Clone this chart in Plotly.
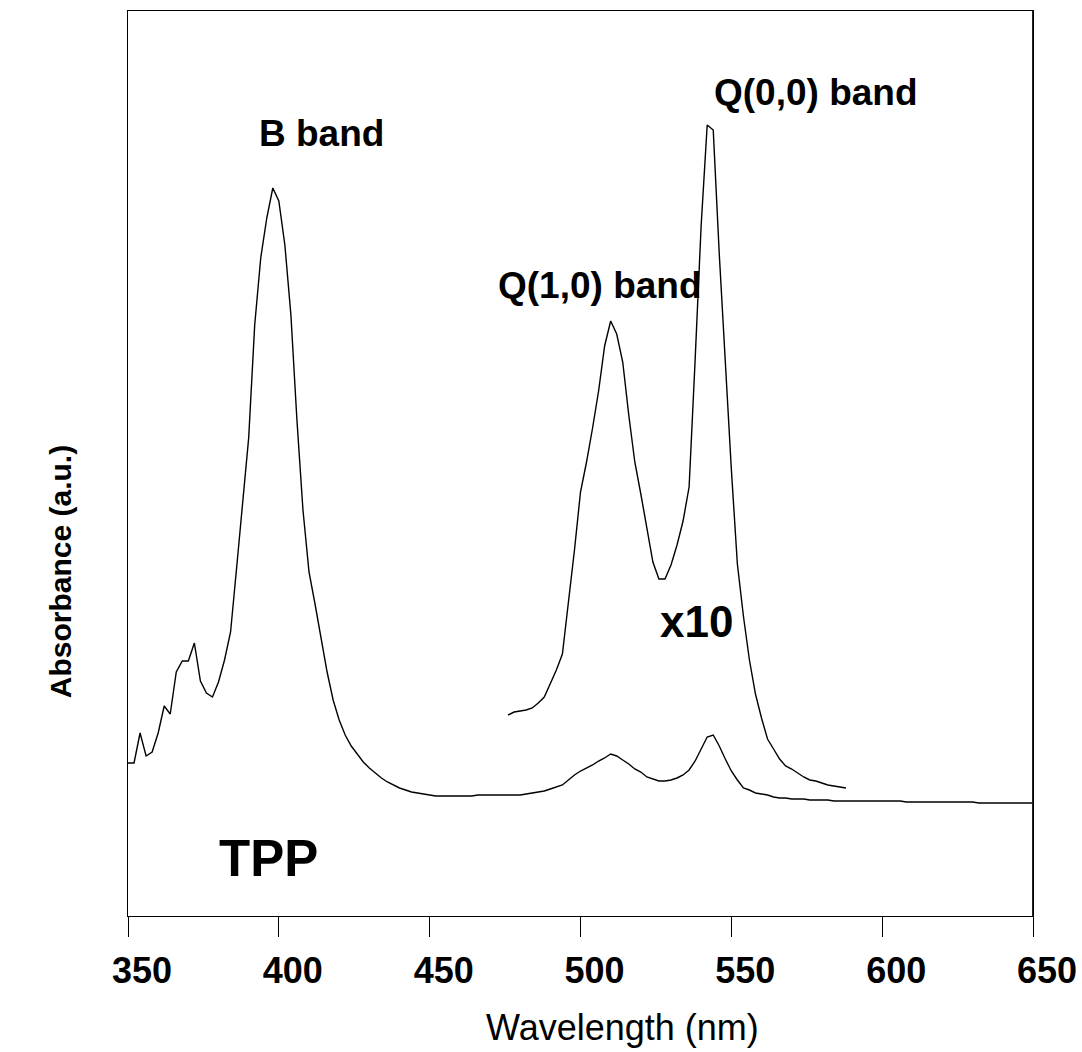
import plotly.graph_objects as go

# UV-vis absorption spectrum of TPP (arbitrary absorbance units)
wavelength = list(range(350, 652, 2))
absorbance = [
    153, 153, 183, 160, 164, 183, 210, 202, 244, 255,   # 350-368
    255, 273, 235, 223, 219, 234, 256, 284, 348, 416,   # 370-388
    478, 591, 658, 698, 728, 715, 671, 601, 496, 406,   # 390-408
    344, 312, 276, 244, 216, 196, 181, 170, 162, 154,   # 410-428
    148, 143, 138, 134, 131, 128, 126, 124, 123, 122,   # 430-448
    121, 120, 120, 120, 120, 120, 120, 120, 121, 121,   # 450-468
    121, 121, 121, 121, 121, 121, 122, 123, 124, 125,   # 470-488
    127, 129, 131, 136, 141, 145, 148, 151, 155, 158,   # 490-508
    162, 160, 156, 152, 147, 144, 139, 137, 135, 135,   # 510-528
    136, 138, 141, 146, 155, 167, 179, 181, 170, 157,   # 530-548
    145, 136, 128, 126, 123, 122, 121, 119, 118, 118,   # 550-568
    117, 117, 117, 116, 116, 116, 116, 115, 115, 115,   # 570-588
    115, 115, 115, 115, 115, 115, 115, 115, 115, 114,   # 590-608
    114, 114, 114, 114, 114, 114, 114, 114, 114, 114,   # 610-628
    114, 113, 113, 113, 113, 113, 113, 113, 113, 113,   # 630-648
    113,                                                # 650
]

# Q-band region magnified ten times
q_wavelength = list(range(476, 590, 2))
q_absorbance_x10 = [
    201, 204, 205, 206, 208, 213, 219, 233, 246, 262,   # 476-494
    311, 366, 424, 454, 488, 525, 570, 595, 582, 554,   # 496-514
    501, 454, 422, 387, 354, 337, 337, 351, 371, 395,   # 516-534
    429, 556, 691, 791, 786, 662, 552, 447, 352, 300,   # 536-554
    256, 222, 198, 177, 167, 157, 150, 147, 143, 139,   # 556-574
    136, 135, 133, 131, 130, 129, 128,                  # 576-588
]

x_ticks = [350, 400, 450, 500, 550, 600, 650]
x_tick_labels = ["350", "400", "450", "500", "550", "600", "650"]

band_labels = ["B band", "Q(1,0) band", "Q(0,0) band", "x10", "TPP"]
label_x = [414, 506.5, 578, 538.6, 396.7]
label_y = [783, 631, 824, 295, 58]
label_size = [37, 37, 37, 44, 51]

fig = go.Figure()
fig.add_trace(go.Scatter(
    x=wavelength, y=absorbance, mode="lines",
    line=dict(color="black", width=1.4), hoverinfo="skip",
))
fig.add_trace(go.Scatter(
    x=q_wavelength, y=q_absorbance_x10, mode="lines",
    line=dict(color="black", width=1.4), hoverinfo="skip",
))

for text, lx, ly, size in zip(band_labels, label_x, label_y, label_size):
    fig.add_annotation(
        x=lx, y=ly, xref="x", yref="y", text=text, showarrow=False,
        xanchor="center", yanchor="middle",
        font=dict(family="Liberation Sans", size=size, color="black", weight="bold"),
    )

# axis titles
fig.add_annotation(
    x=0.546, y=-0.123, xref="paper", yref="paper", text="Wavelength (nm)",
    showarrow=False, xanchor="center", yanchor="middle",
    font=dict(family="Liberation Sans", size=36, color="black"),
)
fig.add_annotation(
    x=-0.075, y=0.38, xref="paper", yref="paper", text="Absorbance (a.u.)",
    showarrow=False, xanchor="center", yanchor="middle", textangle=-90,
    font=dict(family="Liberation Sans", size=30, color="black", weight="bold"),
)

# heavier right-hand frame edge
fig.add_shape(type="line", xref="x", yref="paper", x0=650, x1=650, y0=0, y1=1,
              line=dict(color="#222222", width=2))

fig.update_layout(
    width=1082, height=1052,
    margin=dict(l=128, r=49, t=11, b=136),
    paper_bgcolor="white", plot_bgcolor="white",
    showlegend=False,
    xaxis=dict(
        range=[350, 650], tickmode="array", tickvals=x_ticks, ticktext=x_tick_labels,
        ticks="outside", ticklen=20, tickwidth=1, tickcolor="black",
        showline=True, linecolor="black", linewidth=1, mirror=True,
        showgrid=False, zeroline=False, automargin=False,
        ticklabelshift=14, ticklabelstandoff=3,
        tickfont=dict(family="Liberation Sans", size=36, color="black", weight="bold"),
    ),
    yaxis=dict(
        range=[0, 905], showticklabels=False, ticks="",
        showline=True, linecolor="black", linewidth=1, mirror=True,
        showgrid=False, zeroline=False, automargin=False,
    ),
)

fig.write_html("out.html")
